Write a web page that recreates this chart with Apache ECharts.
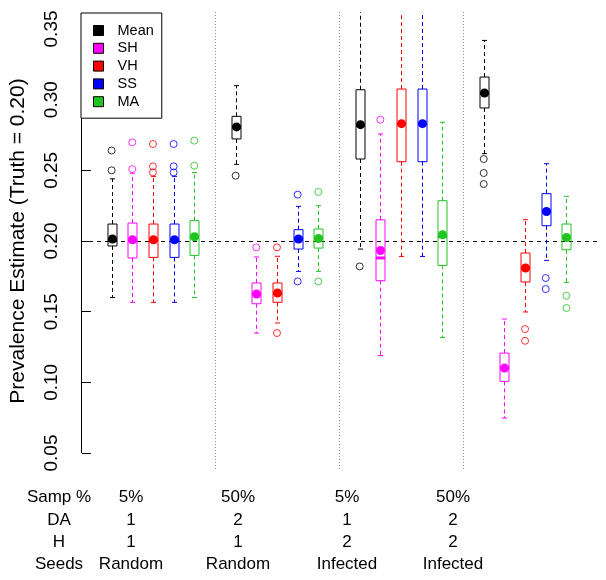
<!DOCTYPE html>
<html>
<head>
<meta charset="utf-8">
<script src="https://cdn.jsdelivr.net/npm/echarts@6/dist/echarts.min.js"></script>
<style>
html,body{margin:0;padding:0;background:#fff;}
#chart{width:606px;height:580px;}
</style>
</head>
<body>
<div id="chart"></div>
<script>
// ---------- data ----------
const seriesNames = ['Mean', 'SH', 'VH', 'SS', 'MA'];
const seriesColors = ['#000000', '#FF00FF', '#FF0000', '#0000FF', '#22C422'];
const yTicks = [0.05, 0.10, 0.15, 0.20, 0.25, 0.30, 0.35];
const truth = 0.20;
const separators = [6, 12, 18];

// box stats per group: [lowerWhisker, q1, median, q3, upperWhisker]
const meanBoxes = [
  [0.160, 0.1965, 0.2010, 0.2120, 0.2440],
  [0.2542, 0.2722, 0.2805, 0.2882, 0.3099],
  [0.1943, 0.2580, 0.2820, 0.3070, 0.4000],
  [0.2618, 0.2941, 0.3045, 0.3160, 0.3419]
];
const shBoxes = [
  [0.1566, 0.1880, 0.2005, 0.2127, 0.2480],
  [0.1349, 0.1556, 0.1625, 0.1703, 0.1887],
  [0.1190, 0.1719, 0.1880, 0.2150, 0.2757],
  [0.0748, 0.1007, 0.1100, 0.1207, 0.1448]
];
const vhBoxes = [
  [0.1566, 0.1884, 0.2005, 0.2120, 0.2457],
  [0.1420, 0.1566, 0.1630, 0.1703, 0.1892],
  [0.1891, 0.2561, 0.2830, 0.3075, 0.4000],
  [0.1498, 0.1710, 0.1810, 0.1915, 0.2151]
];
const ssBoxes = [
  [0.1566, 0.1884, 0.2005, 0.2120, 0.2457],
  [0.1785, 0.1943, 0.2014, 0.2080, 0.2245],
  [0.1891, 0.2561, 0.2830, 0.3075, 0.4000],
  [0.1863, 0.2108, 0.2210, 0.2335, 0.2547]
];
const maBoxes = [
  [0.1600, 0.1898, 0.2030, 0.2144, 0.2485],
  [0.1785, 0.1950, 0.2018, 0.2085, 0.2250],
  [0.1318, 0.1827, 0.2030, 0.2285, 0.2840],
  [0.1707, 0.1938, 0.2025, 0.2120, 0.2316]
];
// mean (filled dot) per group
const meanMeans = [0.2014, 0.2807, 0.2823, 0.3047];
const shMeans = [0.2009, 0.1625, 0.1933, 0.1101];
const vhMeans = [0.2009, 0.1632, 0.2830, 0.1809];
const ssMeans = [0.2009, 0.2014, 0.2830, 0.2209];
const maMeans = [0.2030, 0.2018, 0.2045, 0.2025];
// outliers per group
const meanOutliers = [[0.264, 0.250], [0.2462], [0.182], [0.258, 0.2481, 0.2403]];
const shOutliers = [[0.2698, 0.2509], [0.1955], [0.2858], []];
const vhOutliers = [[0.2686, 0.2528, 0.2485], [0.1955, 0.1349], [], [0.1377, 0.1294]];
const ssOutliers = [[0.2686, 0.2528, 0.2485], [0.2328, 0.1714], [], [0.1738, 0.1660]];
const maOutliers = [[0.2710, 0.2533], [0.2347, 0.1714], [], [0.1613, 0.1526]];

// bottom condition table
const rowLabels = ['Samp %', 'DA', 'H', 'Seeds'];
const sampPct = ['5%', '50%', '5%', '50%'];
const daVals = ['1', '2', '1', '2'];
const hVals = ['1', '1', '2', '2'];
const seedVals = ['Random', 'Random', 'Infected', 'Infected'];

// ---------- build ----------
const allBoxes = [meanBoxes, shBoxes, vhBoxes, ssBoxes, maBoxes];
const allMeans = [meanMeans, shMeans, vhMeans, ssMeans, maMeans];
const allOutliers = [meanOutliers, shOutliers, vhOutliers, ssOutliers, maOutliers];
const FONT = 'Liberation Sans, Arial, Helvetica, sans-serif';

function posOf(group, s) { return group * 6 + s + 1; }

const series = [];

// separators (dotted vertical)
series.push({
  type: 'custom', silent: true, z: 1,
  data: separators.map(v => [v]),
  renderItem(params, api) {
    const cs = params.coordSys;
    const p = api.coord([api.value(0), 0.2]);
    const x = Math.round(p[0]) + 0.5;
    return { type: 'line', shape: { x1: x, y1: cs.y, x2: x, y2: cs.y + cs.height },
      style: { stroke: '#8a8a8a', lineWidth: 1, lineDash: [1, 2] } };
  }
});
// truth line
series.push({
  type: 'custom', silent: true, z: 2,
  data: [[truth]],
  renderItem(params, api) {
    const cs = params.coordSys;
    const p = api.coord([0, api.value(0)]);
    const y = Math.round(p[1]) + 0.5;
    return { type: 'line', shape: { x1: cs.x, y1: y, x2: cs.x + cs.width, y2: y },
      style: { stroke: '#000', lineWidth: 1, lineDash: [4, 4] } };
  }
});
// y axis line (from first to last tick)
series.push({
  type: 'custom', silent: true, z: 3, clip: false,
  data: [[yTicks[0], yTicks[yTicks.length - 1]]],
  renderItem(params, api) {
    const cs = params.coordSys;
    const a = api.coord([0, api.value(0)]);
    const b = api.coord([0, api.value(1)]);
    const x = cs.x + 0.5;
    return { type: 'line', shape: { x1: x, y1: a[1], x2: x, y2: b[1] },
      style: { stroke: '#000', lineWidth: 1 } };
  }
});

seriesNames.forEach((name, s) => {
  const color = seriesColors[s];
  const data = allBoxes[s].map((b, g) => [posOf(g, s), b[0], b[1], b[2], b[3], b[4], allMeans[s][g]]);
  series.push({
    name, type: 'custom', z: 5, clip: true,
    itemStyle: { color },
    data,
    renderItem(params, api) {
      const xv = api.value(0);
      const pl = api.coord([xv, api.value(1)]);
      const p1 = api.coord([xv, api.value(2)]);
      const pm = api.coord([xv, api.value(3)]);
      const p3 = api.coord([xv, api.value(4)]);
      const ph = api.coord([xv, api.value(5)]);
      const pmean = api.coord([xv, api.value(6)]);
      const cx = Math.round(pl[0]) + 0.5;
      const hw = 4.5, cap = 2.5;
      const thin = { stroke: color, lineWidth: 1, fill: null };
      const dash = { stroke: color, lineWidth: 1, lineDash: [4, 3] };
      return {
        type: 'group',
        children: [
          { type: 'line', shape: { x1: cx, y1: p3[1], x2: cx, y2: ph[1] }, style: dash },
          { type: 'line', shape: { x1: cx, y1: p1[1], x2: cx, y2: pl[1] }, style: dash },
          { type: 'line', shape: { x1: cx - cap, y1: ph[1], x2: cx + cap, y2: ph[1] }, style: thin },
          { type: 'line', shape: { x1: cx - cap, y1: pl[1], x2: cx + cap, y2: pl[1] }, style: thin },
          { type: 'rect', shape: { x: cx - hw, y: p3[1], width: hw * 2, height: p1[1] - p3[1] }, style: thin },
          { type: 'line', shape: { x1: cx - hw, y1: pm[1], x2: cx + hw, y2: pm[1] }, style: { stroke: color, lineWidth: 3 } },
          { type: 'circle', shape: { cx: cx, cy: pmean[1], r: 4.5 }, style: { fill: color, stroke: null } }
        ]
      };
    }
  });
});

seriesNames.forEach((name, s) => {
  const color = seriesColors[s];
  const data = [];
  allOutliers[s].forEach((arr, g) => arr.forEach(v => data.push([posOf(g, s), v])));
  series.push({
    name, type: 'scatter', z: 6, silent: true,
    symbol: 'circle', symbolSize: 7,
    itemStyle: { color: 'rgba(0,0,0,0)', borderColor: color, borderWidth: 1 },
    emphasis: { disabled: true },
    data
  });
});

// bottom table as graphic text
const rowY = [497, 520, 542, 564];
const colX = [131, 238, 347, 453];
const rowX = 59;
const tableCols = [sampPct, daVals, hVals, seedVals];
const graphics = [];
rowLabels.forEach((lab, r) => {
  graphics.push({ type: 'text', x: rowX, y: rowY[r], silent: true,
    style: { text: lab, fill: '#000', font: '17px ' + FONT, textAlign: 'center', textVerticalAlign: 'middle' } });
  tableCols[r].forEach((t, g) => {
    graphics.push({ type: 'text', x: colX[g], y: rowY[r], silent: true,
      style: { text: t, fill: '#000', font: '17px ' + FONT, textAlign: 'center', textVerticalAlign: 'middle' } });
  });
});

const chart = echarts.init(document.getElementById('chart'), null, { renderer: 'canvas' });
chart.setOption({
  animation: false,
  backgroundColor: '#fff',
  textStyle: { fontFamily: FONT },
  grid: { left: 81, right: 9, top: 12, bottom: 110, containLabel: false },
  xAxis: { type: 'value', min: -0.48, max: 24.48, show: false },
  yAxis: {
    type: 'value', min: 0.038, max: 0.362,
    name: 'Prevalence Estimate (Truth = 0.20)',
    nameLocation: 'middle', nameRotate: 90, nameGap: 52,
    nameTextStyle: { fontSize: 21, color: '#000', fontFamily: FONT },
    splitLine: { show: false },
    axisLine: { show: false },
    axisTick: { show: true, length: 9, customValues: yTicks, lineStyle: { color: '#000', width: 1 } },
    axisLabel: { customValues: yTicks, rotate: 90, fontSize: 19, color: '#000', margin: 20, fontFamily: FONT,
      formatter: v => v.toFixed(2) }
  },
  legend: {
    orient: 'vertical', left: 81, top: 13,
    data: seriesNames.map((n, i) => ({ name: n, icon: 'rect',
      itemStyle: { color: seriesColors[i], borderColor: '#000', borderWidth: 1 } })),
    itemWidth: 10, itemHeight: 10, itemGap: 2.8,
    padding: [10, 8, 9, 12],
    borderColor: '#000', borderWidth: 1, backgroundColor: '#fff',
    textStyle: { fontSize: 14.5, color: '#000', fontFamily: FONT, lineHeight: 14, padding: [0, 0, 0, 9] },
    selectedMode: false
  },
  graphic: graphics,
  series
});
</script>
</body>
</html>
